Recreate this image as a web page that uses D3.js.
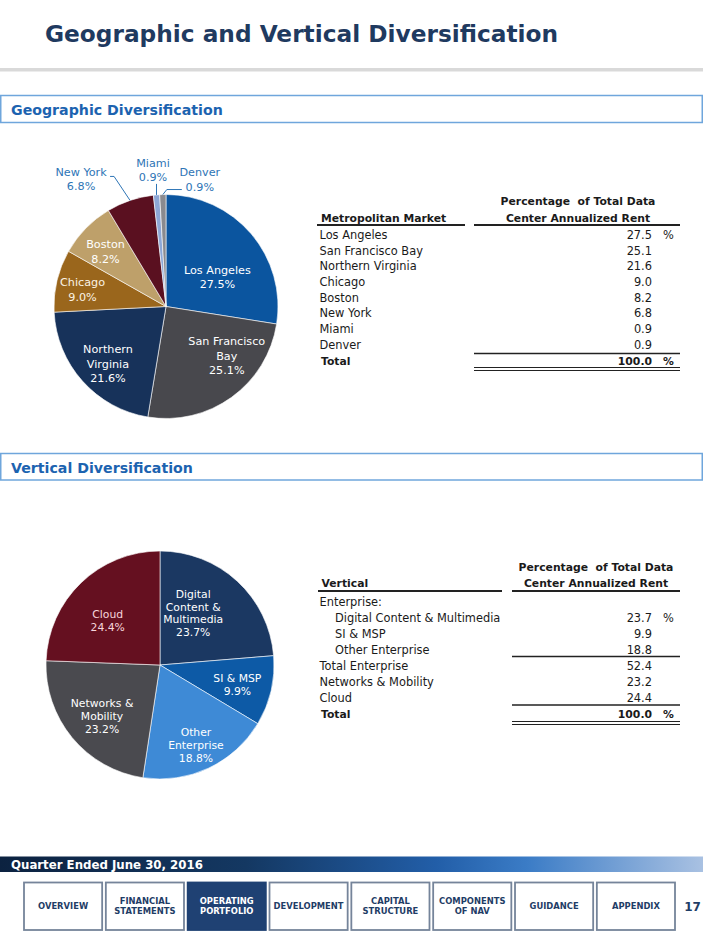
<!DOCTYPE html>
<html><head><meta charset="utf-8">
<script src="https://cdn.jsdelivr.net/npm/d3@7"></script>
<style>
body{margin:0;background:#fff;}
svg{display:block;font-family:"DejaVu Sans",Verdana,sans-serif;}
</style>
</head><body>
<svg id="c" width="703" height="937"></svg>
<script>
// ---------------- DATA ----------------
const geoMarkets = ["Los Angeles","San Francisco Bay","Northern Virginia","Chicago","Boston","New York","Miami","Denver"];
const geoValues  = [27.5,25.1,21.6,9.0,8.2,6.8,0.9,0.9];
const geoColors  = ["#0b559f","#48484d","#17325a","#9a661c","#bea06a","#5a1020","#8da7d6","#8a8a8f"];
const geoLabelLines = [["Los Angeles"],["San Francisco","Bay"],["Northern","Virginia"],["Chicago"],["Boston"],["New York"],["Miami"],["Denver"]];

const verticals = ["Digital Content & Multimedia","SI & MSP","Other Enterprise","Networks & Mobility","Cloud"];
const verticalValues = [23.7,9.9,18.8,23.2,24.4];
const verticalColors = ["#1b3862","#0d5aa6","#3e8ad6","#4a4a4f","#651020"];
const verticalLabelLines = [["Digital","Content &","Multimedia"],["SI & MSP"],["Other","Enterprise"],["Networks &","Mobility"],["Cloud"]];

const geoTableLabels = ["Los Angeles","San Francisco Bay","Northern Virginia","Chicago","Boston","New York","Miami","Denver","Total"];
const geoTableValues = [27.5,25.1,21.6,9.0,8.2,6.8,0.9,0.9,100.0];

const vertTableLabels = ["Enterprise:","Digital Content & Multimedia","SI & MSP","Other Enterprise","Total Enterprise","Networks & Mobility","Cloud","Total"];
const vertTableValues = [null,23.7,9.9,18.8,52.4,23.2,24.4,100.0];
const vertTableIndent = [false,true,true,true,false,false,false,false];

const navItems = [["OVERVIEW"],["FINANCIAL","STATEMENTS"],["OPERATING","PORTFOLIO"],["DEVELOPMENT"],["CAPITAL","STRUCTURE"],["COMPONENTS","OF NAV"],["GUIDANCE"],["APPENDIX"]];
const activeNav = 2;
const pageNumber = "17";

// ---------------- DRAW ----------------
const svg = d3.select("#c");
const navy = "#1f3a60";

function fitWidth(sel, w){
  const n = sel.node(); const fs = +sel.attr("font-size");
  const cur = n.getComputedTextLength();
  sel.attr("font-size", fs * w / cur);
}

// Title
svg.append("text").attr("x",45).attr("y",42).attr("font-weight","bold")
  .attr("font-size",24).attr("fill",navy).text("Geographic and Vertical Diversification")
  .call(fitWidth, 513);
svg.append("rect").attr("x",0).attr("y",68).attr("width",703).attr("height",3.5).attr("fill","#d9d9d9");

function sectionHeader(y0, h, label, baseline, w){
  svg.append("rect").attr("x",0.75).attr("y",y0).attr("width",701.5).attr("height",h)
    .attr("fill","#fff").attr("stroke","#6fa6dc").attr("stroke-width",1.5);
  svg.append("text").attr("x",11).attr("y",baseline).attr("font-weight","bold").attr("font-size",15)
    .attr("fill","#1c63b0").text(label).call(fitWidth, w);
}
sectionHeader(95.5, 27, "Geographic Diversification", 114.5, 212);
sectionHeader(453.5, 26.5, "Vertical Diversification", 472.5, 182);

// Pie helper
function drawPie(cfg){
  const g = svg.append("g").attr("transform",`translate(${cfg.cx},${cfg.cy})`);
  const pie = d3.pie().sort(null).value(d=>d);
  const arcs = pie(cfg.values);
  const arc = d3.arc().innerRadius(0).outerRadius(cfg.r);
  g.selectAll("path.slice").data(arcs).join("path").attr("class","slice")
    .attr("d",arc).attr("fill",(d,i)=>cfg.colors[i]).attr("stroke","#fff").attr("stroke-width",0.6);
  arcs.forEach((a,i)=>{
    const lines = cfg.lines[i].concat([d3.format(".1f")(cfg.values[i])+"%"]);
    const co = cfg.callouts && cfg.callouts[i];
    if (co){
      const mid = (a.startAngle+a.endAngle)/2;
      const ex = cfg.r*Math.sin(mid), ey = -cfg.r*Math.cos(mid);
      const pts = [[ex,ey]].concat(co.path.map(p=>[ex+p[0],ey+p[1]]));
      g.append("path").attr("d",d3.line()(pts)).attr("fill","none").attr("stroke","#2e75b6").attr("stroke-width",1);
      const t = g.append("text").attr("text-anchor","middle").attr("font-size",cfg.fs).attr("fill","#2e75b6");
      lines.forEach((l,k)=>t.append("tspan").attr("x",ex+co.label[0]).attr("y",ey+co.label[1]+k*cfg.lh).attr("dy","0.35em").text(l));
    } else {
      const lay = cfg.layout[i] || {};
      const rr = (lay.r || cfg.labelR)*cfg.r;
      const ang = (a.startAngle+a.endAngle)/2 + (lay.da||0)*Math.PI/180;
      const x = rr*Math.sin(ang), y = -rr*Math.cos(ang);
      const t = g.append("text").attr("text-anchor","middle").attr("font-size",cfg.fs).attr("fill",cfg.textColor[i]||"#fff");
      const y0 = y - (lines.length-1)*cfg.lh/2;
      lines.forEach((l,k)=>t.append("tspan").attr("x",x).attr("y",y0+k*cfg.lh).attr("dy","0.35em").text(l));
    }
  });
}

drawPie({
  cx:166, cy:306.5, r:112, values:geoValues, colors:geoColors, lines:geoLabelLines,
  fs:11.2, lh:14.5, labelR:0.73,
  textColor:["#fff","#fff","#fff","#fbf3e4","#fff"],
  layout:{0:{r:0.53,da:10.5},1:{r:0.70,da:-15},2:{da:-3},3:{r:0.76,da:-2},4:{da:-2}},
  callouts:{
    5:{path:[[-16,-24],[-20,-24]], label:[-49,-28.5]},
    6:{path:[[0,-11]], label:[-3.5,-32]},
    7:{path:[[4,-5],[19,-5]], label:[37,-22]}
  }
});

drawPie({
  cx:160, cy:665, r:114, values:verticalValues, colors:verticalColors, lines:verticalLabelLines,
  fs:10.8, lh:12.8, labelR:0.7,
  textColor:["#fff","#fff","#fff","#fff","#f6d6dc"],
  layout:{0:{r:0.54,da:-10},1:{r:0.70,da:1},2:{r:0.77,da:1},3:{r:0.68,da:-2},4:{r:0.6,da:-6}}
});

// Tables
const fmt = d3.format(".1f");
const FS = 11.4, FB = 10.8;
function hline(x1,x2,y,w){ svg.append("line").attr("x1",x1).attr("x2",x2).attr("y1",y).attr("y2",y).attr("stroke","#222").attr("stroke-width",w); }
function txt(x,y,s,opt={}){
  return svg.append("text").attr("x",x).attr("y",y).attr("font-size",opt.fs||FS)
    .attr("font-weight",opt.bold?"bold":"normal").attr("text-anchor",opt.anchor||"start")
    .attr("fill","#1a1a1a").text(s);
}

// Table 1
txt(578,205,"Percentage  of Total Data",{bold:true,fs:FB,anchor:"middle"}).style("white-space","pre");
txt(578,222,"Center Annualized Rent",{bold:true,fs:FB,anchor:"middle"});
txt(321,222,"Metropolitan Market",{bold:true,fs:FB});
hline(317,465,225,2); hline(474,680,225,2);
const y1 = d3.scalePoint().domain(d3.range(geoTableLabels.length)).range([239,364.5]);
geoTableLabels.forEach((l,i)=>{
  const tot = l==="Total";
  txt(tot?321:319.5, y1(i), l, {bold:tot, fs:tot?FB:FS});
  txt(652, y1(i), fmt(geoTableValues[i]), {anchor:"end", bold:tot, fs:tot?FB:FS});
  if (i===0 || tot) txt(663, y1(i), "%", {bold:tot, fs:tot?FB:FS});
});
hline(474,680,353.5,1.3);
hline(474,680,367.5,1); hline(474,680,370.5,1);

// Table 2
txt(596,571,"Percentage  of Total Data",{bold:true,fs:FB,anchor:"middle"}).style("white-space","pre");
txt(596,587,"Center Annualized Rent",{bold:true,fs:FB,anchor:"middle"});
txt(321.5,587,"Vertical",{bold:true,fs:FB});
hline(318,502,591,2); hline(512,680,591,2);
const y2 = d3.scalePoint().domain(d3.range(vertTableLabels.length)).range([605.5,717.5]);
vertTableLabels.forEach((l,i)=>{
  const tot = l==="Total";
  txt(tot?321:(vertTableIndent[i]?335:319.5), y2(i), l, {bold:tot, fs:tot?FB:FS});
  if (vertTableValues[i]!==null) txt(652, y2(i), fmt(vertTableValues[i]), {anchor:"end", bold:tot, fs:tot?FB:FS});
  if (i===1 || tot) txt(663, y2(i), "%", {bold:tot, fs:tot?FB:FS});
});
hline(512,680,656.5,1.3);
hline(512,680,705,1.3);
hline(512,680,721.5,1); hline(512,680,724.5,1);

// Footer band
const grad = svg.append("defs").append("linearGradient").attr("id","fg").attr("x1","0").attr("x2","1").attr("y1","0").attr("y2","0");
[[0,"#0c2240"],[0.35,"#143862"],[0.62,"#225ea8"],[0.75,"#3b7cc6"],[1,"#a9c1e2"]].forEach(s=>grad.append("stop").attr("offset",s[0]).attr("stop-color",s[1]));
svg.append("rect").attr("x",0).attr("y",856.5).attr("width",703).attr("height",15.5).attr("fill","url(#fg)");
svg.append("text").attr("x",11).attr("y",868.5).attr("font-weight","bold").attr("font-size",13)
  .attr("fill","#fff").text("Quarter Ended June 30, 2016").call(fitWidth,192);

// Nav
const xb = d3.scaleBand().domain(d3.range(navItems.length)).range([24,675]).paddingInner(0.045);
navItems.forEach((lines,i)=>{
  const act = i===activeNav;
  svg.append("rect").attr("x",xb(i)).attr("y",882.5).attr("width",xb.bandwidth()).attr("height",47.5)
    .attr("fill",act?"#1f4173":"#fff").attr("stroke",act?"#1f4173":"#75849a").attr("stroke-width",1.8);
  const cx = xb(i)+xb.bandwidth()/2;
  const t = svg.append("text").attr("text-anchor","middle").attr("font-weight","bold").attr("font-size",8.4)
    .attr("fill",act?"#fff":"#1f3d66");
  const y0 = 906.5 - (lines.length-1)*10/2;
  lines.forEach((l,k)=>t.append("tspan").attr("x",cx).attr("y",y0+k*10).attr("dy","0.35em").text(l));
});
svg.append("text").attr("x",692.5).attr("y",906.5).attr("dy","0.35em").attr("text-anchor","middle")
  .attr("font-weight","bold").attr("font-size",12).attr("fill","#1f3d66").text(pageNumber);
</script>
</body></html>
